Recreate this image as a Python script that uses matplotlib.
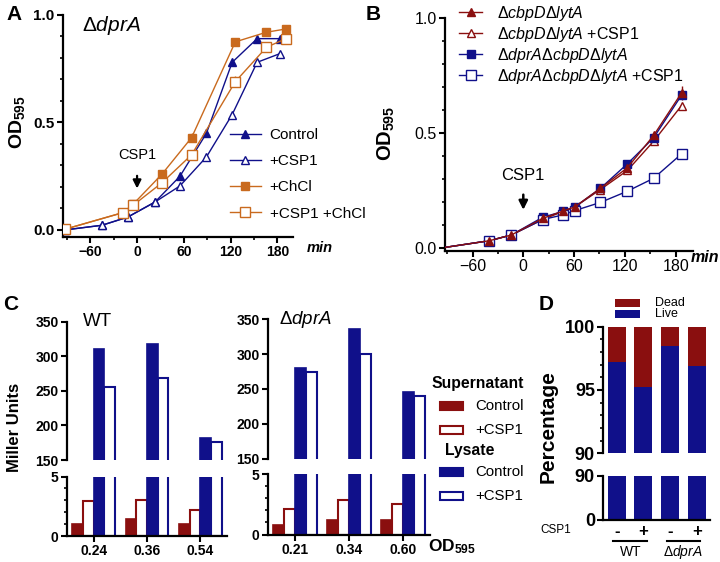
import matplotlib
matplotlib.use('Agg')
import matplotlib.pyplot as plt
import numpy as np
from matplotlib.patches import Rectangle
import matplotlib.transforms as mtransforms

plt.rcParams.update({
    'font.family': ['Liberation Sans', 'DejaVu Sans'],
    'mathtext.fontset': 'custom',
    'mathtext.rm': 'Liberation Sans',
    'mathtext.it': 'Liberation Sans:italic',
    'mathtext.bf': 'Liberation Sans:bold',
    'axes.linewidth': 1.6,
    'xtick.major.width': 1.5, 'ytick.major.width': 1.5,
    'xtick.minor.width': 1.2, 'ytick.minor.width': 1.2,
    'xtick.major.size': 4, 'ytick.major.size': 4,
    'xtick.minor.size': 2.5, 'ytick.minor.size': 2.5,
})

# ---------------- data ----------------
# Panel A (ΔdprA growth)
a_time_ctrl = [-93, -45, -12, 23, 55, 89, 122, 154, 183]
a_ctrl = [0.0, 0.022, 0.06, 0.13, 0.25, 0.45, 0.78, 0.89, 0.89]
a_csp1 = [0.0, 0.022, 0.06, 0.13, 0.205, 0.34, 0.537, 0.78, 0.82]
a_time_chcl = [-93, -18, -5, 32, 70, 126, 166, 191]
a_chcl = [0.003, 0.081, 0.12, 0.26, 0.43, 0.875, 0.92, 0.935]
a_chcl_err = [0, 0, 0, 0.015, 0.02, 0.015, 0, 0]
a_csp1_chcl = [0.003, 0.081, 0.115, 0.22, 0.35, 0.69, 0.85, 0.89]
a_csp1_chcl_err = [0, 0, 0, 0, 0, 0.025, 0.02, 0]

# Panel B
b_time = [-105, -40, -14, 23, 47, 61, 91, 123, 154, 187]
b_cl = [-0.003, 0.033, 0.058, 0.13, 0.162, 0.18, 0.26, 0.35, 0.49, 0.675]
b_cl_err = [0, 0, 0, 0, 0, 0, 0, 0, 0, 0.03]
b_cl_csp = [-0.003, 0.033, 0.058, 0.125, 0.16, 0.18, 0.255, 0.338, 0.465, 0.62]
b_dcl = [-0.003, 0.033, 0.058, 0.135, 0.16, 0.18, 0.26, 0.367, 0.48, 0.665]
b_dcl_csp = [-0.003, 0.033, 0.058, 0.125, 0.145, 0.164, 0.199, 0.248, 0.304, 0.41]

# Panel C
c_wt_od = ['0.24', '0.36', '0.54']
c_wt_sup_ctrl = [0.98, 1.4, 0.98]
c_wt_sup_csp = [2.9, 3.03, 2.19]
c_wt_lys_ctrl = [311, 317, 182]
c_wt_lys_csp = [256, 268, 176]
c_dp_od = ['0.21', '0.34', '0.60']
c_dp_sup_ctrl = [0.82, 1.17, 1.23]
c_dp_sup_csp = [2.08, 2.81, 2.49]
c_dp_lys_ctrl = [280, 336, 245]
c_dp_lys_csp = [275, 300, 240]

# Panel D
d_labels = ['-', '+', '-', '+']
d_live = [97.2, 95.2, 98.5, 96.9]
d_dead = [100 - v for v in d_live]

NAVY = '#10108a'
DRED = '#8a0f0f'
ORANGE = '#c96a1e'

fig = plt.figure(figsize=(7.2, 5.62), dpi=100)
W, H = 720.0, 562.0


def add_ax(l, t, r, b):
    return fig.add_axes([l / W, 1 - b / H, (r - l) / W, (b - t) / H])


def fx(x):
    return x / W


def fy(y):
    return 1 - y / H


def style_spines(ax, left=True, bottom=True):
    ax.spines['top'].set_visible(False)
    ax.spines['right'].set_visible(False)
    ax.spines['left'].set_visible(left)
    ax.spines['bottom'].set_visible(bottom)


def bold_ticks(ax, axis='both'):
    if axis in ('x', 'both'):
        for t in ax.get_xticklabels():
            t.set_fontweight('bold')
    if axis in ('y', 'both'):
        for t in ax.get_yticklabels():
            t.set_fontweight('bold')

# ---------------- Panel A ----------------
axA = add_ax(63, 15, 293, 237)
style_spines(axA)
axA.plot(a_time_ctrl, a_ctrl, '-^', color=NAVY, mfc=NAVY, mec=NAVY, ms=6, lw=1, label='Control', zorder=3)
axA.plot(a_time_ctrl, a_csp1, '-^', color=NAVY, mfc='white', mec=NAVY, ms=6, lw=1, label='+CSP1', zorder=3)
axA.errorbar(a_time_chcl, a_chcl, yerr=a_chcl_err, fmt='none', ecolor=ORANGE, lw=1, zorder=2)
axA.plot(a_time_chcl, a_chcl, '-s', color=ORANGE, mfc=ORANGE, mec=ORANGE, ms=6, lw=1, label='+ChCl', zorder=3)
axA.errorbar(a_time_chcl, a_csp1_chcl, yerr=a_csp1_chcl_err, fmt='none', ecolor=ORANGE, lw=1, zorder=2)
axA.plot(a_time_chcl, a_csp1_chcl, '-s', color=ORANGE, mfc='white', mec=ORANGE, ms=6.5, lw=1, label='+CSP1 +ChCl', zorder=3)
axA.set_xlim(-95, 200)
axA.set_ylim(-0.0326, 1.0)
axA.set_xticks([-60, 0, 60, 120, 180])
axA.set_xticks([-90, -30, 30, 90, 150], minor=True)
axA.set_yticks([0, 0.5, 1.0])
axA.set_yticklabels(['0.0', '0.5', '1.0'])
axA.set_yticks(np.arange(0.1, 1.0, 0.1), minor=True)
axA.tick_params(axis='x', labelsize=10, pad=2)
axA.tick_params(axis='y', labelsize=11, pad=2)
bold_ticks(axA)
axA.legend(loc='upper left', bbox_to_anchor=(fx(230), fy(128)), bbox_transform=fig.transFigure,
           frameon=False, fontsize=11, handlelength=2.0, handletextpad=0.6, labelspacing=0.8,
           borderpad=0, borderaxespad=0)
axA.text(-70, 0.95, r'$\Delta\mathit{dprA}$', fontsize=15, ha='left', va='center')
axA.text(0, 0.35, 'CSP1', fontsize=10.5, ha='center', va='center')
axA.annotate('', xy=(0, 0.18), xytext=(0, 0.265),
             arrowprops=dict(arrowstyle='-|>', color='black', lw=1.6, mutation_scale=12))
fig.text(fx(320), fy(248), 'min', fontsize=10.5, fontweight='bold', style='italic', ha='center', va='center')
fig.text(fx(17), fy(122), r'$\mathbf{OD_{595}}$', fontsize=14, rotation=90, ha='center', va='center')
fig.text(fx(14), fy(14), 'A', fontsize=15, fontweight='bold', ha='center', va='center')

# ---------------- Panel B ----------------
axB = add_ax(445, 18, 693, 250.7)
style_spines(axB)
axB.errorbar(b_time, b_cl, yerr=b_cl_err, fmt='none', ecolor=DRED, lw=1, zorder=2)
axB.plot(b_time, b_cl, '-^', color=DRED, mfc=DRED, mec=DRED, ms=6, lw=1,
         label=r'$\Delta\mathit{cbpD}\Delta\mathit{lytA}$', zorder=4)
axB.plot(b_time, b_cl_csp, '-^', color=DRED, mfc='white', mec=DRED, ms=6, lw=1,
         label=r'$\Delta\mathit{cbpD}\Delta\mathit{lytA}$ +CSP1', zorder=3)
axB.plot(b_time, b_dcl, '-s', color=NAVY, mfc=NAVY, mec=NAVY, ms=6, lw=1,
         label=r'$\Delta\mathit{dprA}\Delta\mathit{cbpD}\Delta\mathit{lytA}$', zorder=3)
axB.plot(b_time, b_dcl_csp, '-s', color=NAVY, mfc='white', mec=NAVY, ms=6.5, lw=1,
         label=r'$\Delta\mathit{dprA}\Delta\mathit{cbpD}\Delta\mathit{lytA}$ +CSP1', zorder=3)
axB.set_xlim(-92.5, 200.5)
axB.set_ylim(-0.0104, 1.0)
axB.set_xticks([-60, 0, 60, 120, 180])
axB.set_xticks([-90, -30, 30, 90, 150], minor=True)
axB.set_yticks([0, 0.5, 1.0])
axB.set_yticklabels(['0.0', '0.5', '1.0'])
axB.set_yticks(np.arange(0.1, 1.0, 0.1), minor=True)
axB.tick_params(axis='both', labelsize=11.5, pad=2)
axB.legend(loc='upper left', bbox_to_anchor=(fx(459), fy(4)), bbox_transform=fig.transFigure,
           frameon=False, fontsize=11.5, handlelength=1.45, handletextpad=0.95, labelspacing=0.12,
           borderpad=0, borderaxespad=0)
axB.text(0, 0.317, 'CSP1', fontsize=12, ha='center', va='center')
axB.annotate('', xy=(0, 0.155), xytext=(0, 0.245),
             arrowprops=dict(arrowstyle='-|>', color='black', lw=1.8, mutation_scale=13))
fig.text(fx(705), fy(258), 'min', fontsize=11.5, fontweight='bold', style='italic', ha='center', va='center')
fig.text(fx(386), fy(133), r'$\mathbf{OD_{595}}$', fontsize=14.5, rotation=90, ha='center', va='center')
fig.text(fx(373), fy(14), 'B', fontsize=15, fontweight='bold', ha='center', va='center')

# ---------------- Panel C ----------------
offs = [-0.3, -0.1, 0.1, 0.3]
bw = 0.2


def draw_c(ax, sup_c, sup_p, lys_c, lys_p):
    x = np.arange(3)
    ax.bar(x + offs[0], sup_c, bw, color=DRED, edgecolor=DRED, lw=1.2)
    ax.bar(x + offs[1], sup_p, bw, color='white', edgecolor=DRED, lw=1.5)
    ax.bar(x + offs[2], lys_c, bw, color=NAVY, edgecolor=NAVY, lw=1.2)
    ax.bar(x + offs[3], lys_p, bw, color='white', edgecolor=NAVY, lw=1.5)
    ax.set_xlim(-0.5, 2.5)


for (l, r, tt, tb, bt, bb, od, sc, sp, lc, lp) in [
        (67, 227, 321.5, 460, 476.5, 536, c_wt_od, c_wt_sup_ctrl, c_wt_sup_csp, c_wt_lys_ctrl, c_wt_lys_csp),
        (268, 430, 319.5, 458.5, 474, 534.5, c_dp_od, c_dp_sup_ctrl, c_dp_sup_csp, c_dp_lys_ctrl, c_dp_lys_csp)]:
    at = add_ax(l, tt, r, tb)
    ab = add_ax(l, bt, r, bb)
    draw_c(at, sc, sp, lc, lp)
    draw_c(ab, sc, sp, lc, lp)
    style_spines(at, left=True, bottom=False)
    style_spines(ab)
    at.set_ylim(150, 350)
    at.set_yticks([150, 200, 250, 300, 350])
    at.set_xticks([])
    ab.set_ylim(0, 5)
    ab.set_yticks([0, 5])
    ab.set_yticks([1, 2, 3, 4], minor=True)
    ab.set_xticks(np.arange(3))
    ab.set_xticklabels(od)
    at.tick_params(axis='y', labelsize=10, pad=2)
    ab.tick_params(axis='both', labelsize=10, pad=2)
    bold_ticks(at)
    bold_ticks(ab)
    if l < 100:
        at.text(0.1, 1.0, 'WT', transform=at.transAxes, fontsize=13.5, ha='left', va='center')
    else:
        at.text(0.07, 1.0, r'$\Delta\mathit{dprA}$', transform=at.transAxes, fontsize=13.5, ha='left', va='center')

fig.text(fx(15), fy(427), 'Miller Units', fontsize=12, fontweight='bold', rotation=90, ha='center', va='center')
fig.text(fx(452), fy(547), r'$\mathbf{OD_{595}}$', fontsize=12.5, ha='center', va='center')
fig.text(fx(11), fy(304), 'C', fontsize=15, fontweight='bold', ha='center', va='center')

# C legend
fig.text(fx(431), fy(383.5), 'Supernatant', fontsize=11.3, fontweight='bold', ha='left', va='center')
fig.text(fx(445), fy(451), 'Lysate', fontsize=11.3, fontweight='bold', ha='left', va='center')
for yc, fc, ec, lab in [(405.7, DRED, DRED, 'Control'), (430, 'white', DRED, '+CSP1'),
                        (471.7, NAVY, NAVY, 'Control'), (496, 'white', NAVY, '+CSP1')]:
    fig.add_artist(Rectangle((fx(440), fy(yc + 4)), 23 / W, 8 / H, transform=fig.transFigure,
                             facecolor=fc, edgecolor=ec, lw=1.5))
    fig.text(fx(475), fy(yc), lab, fontsize=10.8, ha='left', va='center')

# ---------------- Panel D ----------------
dt = add_ax(603.3, 326.7, 710, 453.3)
db = add_ax(603.3, 475.7, 710, 520)
xd = np.arange(4)
for ax in (dt, db):
    ax.bar(xd, d_live, 0.67, color=NAVY, edgecolor=NAVY, lw=0)
    ax.bar(xd, d_dead, 0.67, bottom=d_live, color=DRED, edgecolor=DRED, lw=0)
    ax.set_xlim(-0.5, 3.5)
style_spines(dt, left=True, bottom=False)
style_spines(db)
dt.set_ylim(90, 100)
dt.set_yticks([90, 95, 100])
dt.set_yticks(np.arange(91, 100), minor=True)
dt.set_xticks([])
db.set_ylim(0, 90)
db.set_yticks([0, 90])
db.set_xticks(xd)
db.set_xticklabels(d_labels)
db.tick_params(axis='x', length=0, labelsize=12, pad=3)
dt.tick_params(axis='y', labelsize=13, pad=2)
db.tick_params(axis='y', labelsize=13, pad=2)
bold_ticks(dt)
bold_ticks(db)
trans = mtransforms.blended_transform_factory(db.transData, db.transAxes)
for x0, x1, lab in [(-0.12, 1.15, 'WT'), (1.88, 3.12, r'$\Delta\mathit{dprA}$')]:
    db.plot([x0, x1], [-0.47, -0.47], color='black', lw=1.5, transform=trans, clip_on=False)
    db.text((x0 + x1) / 2, -0.72, lab, transform=trans, fontsize=10, ha='center', va='center')
fig.text(fx(556), fy(530), 'CSP1', fontsize=8.5, ha='center', va='center')
fig.text(fx(548), fy(427), 'Percentage', fontsize=15, fontweight='bold', rotation=90, ha='center', va='center')
fig.text(fx(546), fy(305), 'D', fontsize=15, fontweight='bold', ha='center', va='center')
for yc, col, lab in [(302.5, DRED, 'Dead'), (314, NAVY, 'Live')]:
    fig.add_artist(Rectangle((fx(615), fy(yc + 4)), 25 / W, 8 / H, transform=fig.transFigure,
                             facecolor=col, edgecolor=col, lw=0))
    fig.text(fx(655), fy(yc), lab, fontsize=9, ha='left', va='center')

fig.savefig('out.png', dpi=100)
